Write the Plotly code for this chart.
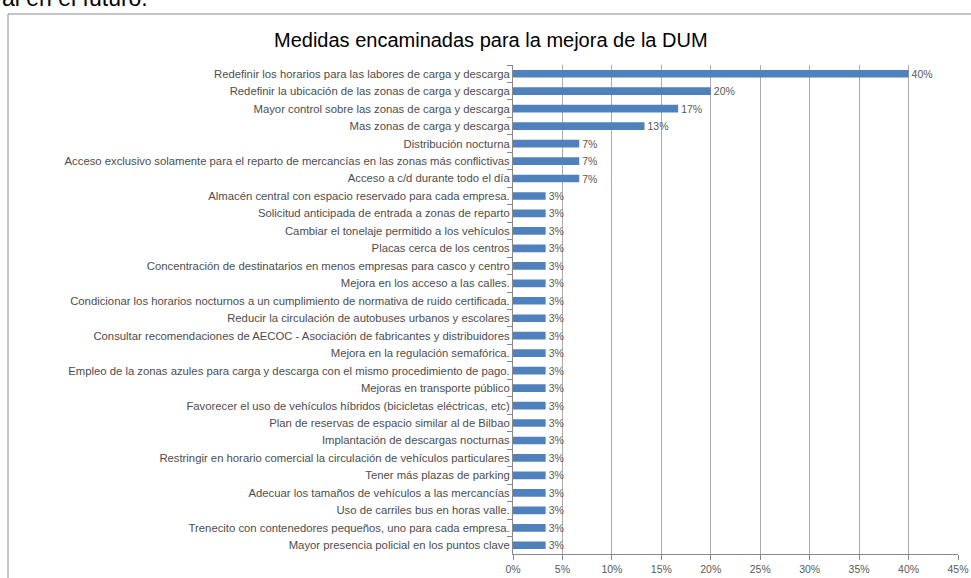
import plotly.graph_objects as go

# datos
medidas = [
    "Redefinir los horarios para las labores de carga y descarga",
    "Redefinir la ubicación de las zonas de carga y descarga",
    "Mayor control sobre las zonas de carga y descarga",
    "Mas zonas de carga y descarga",
    "Distribución nocturna",
    "Acceso exclusivo solamente para el reparto de mercancías en las zonas más conflictivas",
    "Acceso a c/d durante todo el día",
    "Almacén central con espacio reservado para cada empresa.",
    "Solicitud anticipada de entrada a zonas de reparto",
    "Cambiar el tonelaje permitido a los vehículos",
    "Placas cerca de los centros",
    "Concentración de destinatarios en menos empresas para casco y centro",
    "Mejora en los acceso a las calles.",
    "Condicionar los horarios nocturnos a un cumplimiento de normativa de ruido certificada.",
    "Reducir la circulación de autobuses urbanos y escolares",
    "Consultar recomendaciones de AECOC - Asociación de fabricantes y distribuidores",
    "Mejora en la regulación semafórica.",
    "Empleo de la zonas azules para carga y descarga con el mismo procedimiento de pago.",
    "Mejoras en transporte público",
    "Favorecer el uso de vehículos híbridos (bicicletas eléctricas, etc)",
    "Plan de reservas de espacio similar al de Bilbao",
    "Implantación de descargas nocturnas",
    "Restringir en horario comercial la circulación de vehículos particulares",
    "Tener más plazas de parking",
    "Adecuar los tamaños de vehículos a las mercancías",
    "Uso de carriles bus en horas valle.",
    "Trenecito con contenedores pequeños, uno para cada empresa.",
    "Mayor presencia policial en los puntos clave",
]
porcentajes = [0.40, 0.20, 0.167, 0.133, 0.067, 0.067, 0.067] + [0.033] * 21

titulo = "Medidas encaminadas para la mejora de la DUM"
texto_doc = "al en el futuro."

W, H = 971, 578
ML, MR, MT, MB = 513, 13, 65, 24
pw, ph = W - ML - MR, H - MT - MB

def px_x(p):
    return (p - ML) / pw

def px_y(p):
    return (H - MB - p) / ph

fig = go.Figure()
fig.add_trace(go.Bar(
    x=porcentajes, y=medidas,
    orientation="h",
    marker=dict(color="#4F81BD", line=dict(width=0)),
    texttemplate="%{x:.0%}",
    textposition="outside",
    constraintext="none",
    textfont=dict(size=10.5, color="#595959"),
    cliponaxis=False,
))

fig.update_layout(
    width=W, height=H,
    margin=dict(l=ML, r=MR, t=MT, b=MB, autoexpand=False),
    paper_bgcolor="white", plot_bgcolor="white",
    font=dict(family="Liberation Sans, Arial, sans-serif", color="#404040"),
    bargap=0.56,
    showlegend=False,
)
fig.update_xaxes(
    range=[0, 0.45], dtick=0.05, tickformat=".0%",
    showgrid=True, gridcolor="#ababab", gridwidth=1,
    showline=True, linecolor="#888888",
    ticks="outside", ticklen=5, tickcolor="#888888",
    tickfont=dict(size=10.5, color="#595959"),
    zeroline=False, automargin=False,
)
fig.update_yaxes(
    autorange="reversed",
    showline=True, linecolor="#888888",
    ticks="outside", ticklen=5, tickcolor="#888888", tickson="boundaries",
    tickfont=dict(size=11.3, color="#4d4d4d"),
    showgrid=False, automargin=False,
)

# título
fig.add_annotation(
    text=titulo, xref="paper", yref="paper",
    x=px_x(491), y=px_y(40), xanchor="center", yanchor="middle",
    showarrow=False, font=dict(size=20, color="black", family="Liberation Sans, Arial"),
)
# marco del gráfico
fig.add_shape(type="line", xref="paper", yref="paper",
              x0=px_x(8), x1=px_x(971), y0=px_y(14), y1=px_y(14),
              line=dict(color="#8c8c8c", width=1))
fig.add_shape(type="line", xref="paper", yref="paper",
              x0=px_x(8), x1=px_x(8), y0=px_y(14), y1=px_y(590),
              line=dict(color="#8c8c8c", width=1))
# texto del documento (cortado arriba, como en la captura)
fig.add_annotation(
    text=texto_doc, xref="paper", yref="paper",
    x=px_x(0), y=px_y(13), xanchor="left", yanchor="bottom",
    showarrow=False, font=dict(size=23, color="black", family="Liberation Sans, Arial"),
)

# sin margen del body para que la figura ocupe toda la ventana
fig.write_html(
    "out.html",
    config={"displayModeBar": False},
    post_script="document.body.style.margin='0';document.body.style.overflow='hidden';",
)
